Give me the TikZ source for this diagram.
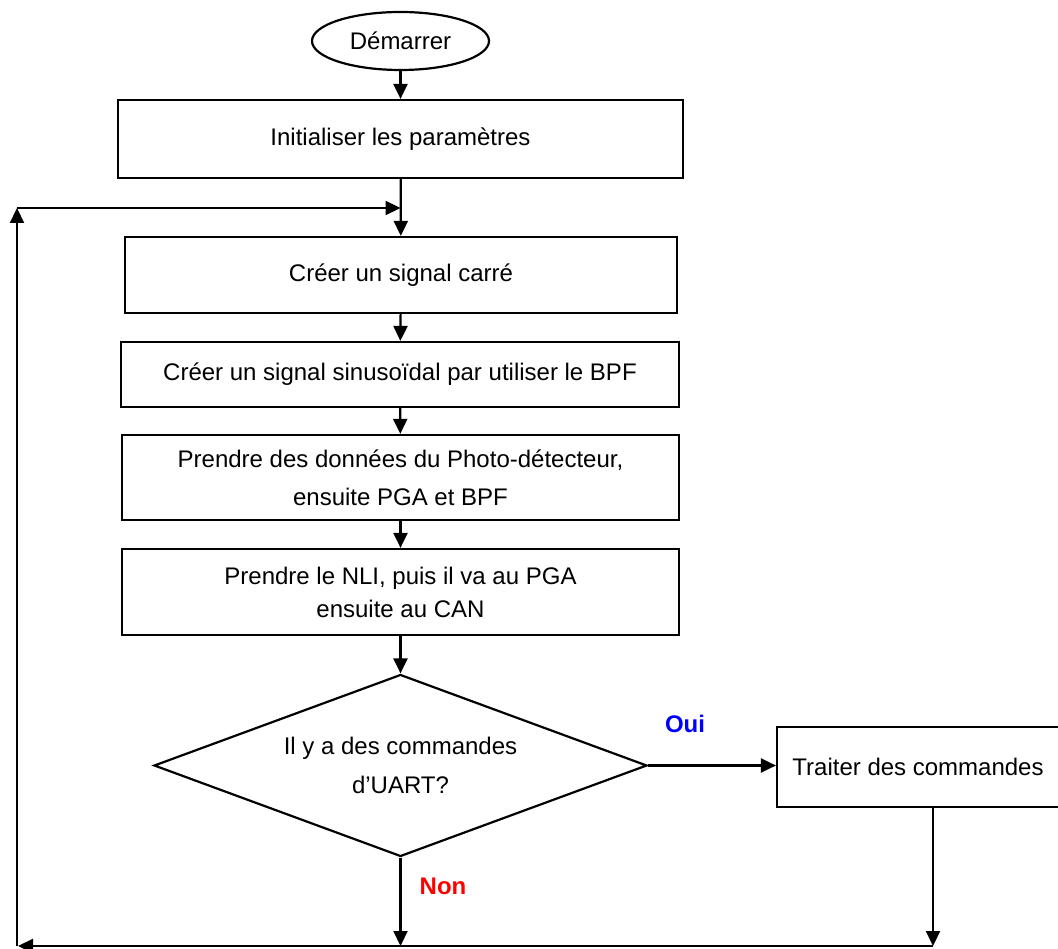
\documentclass[tikz,border=0pt]{standalone}
\usepackage{fontspec}
\setmainfont{Liberation Sans}
\usetikzlibrary{arrows.meta,shapes.geometric}
\begin{document}
\begin{tikzpicture}[x=1pt,y=-1pt,
  every node/.style={font=\fontsize{24}{38}\selectfont},
  box/.style={draw,line width=2.2pt,rectangle,inner sep=0pt,align=center},
  arr/.style={line width=2.2pt,-{Triangle[length=15pt,width=14pt]}},
  ln/.style={line width=2.2pt}]
\useasboundingbox (0,0) rectangle (1058,949);
\fill[white] (0,0) rectangle (1058,949);
\node[draw,line width=2.2pt,ellipse,minimum width=177pt,minimum height=58pt,inner sep=0pt] (start) at (400.5,41) {Démarrer};
\node[box,minimum width=565pt,minimum height=78pt] (b1) at (400.5,139) {Initialiser les paramètres};
\node[box,minimum width=552pt,minimum height=76pt] (b2) at (401,275) {Créer un signal carré};
\node[box,minimum width=558pt,minimum height=65pt] (b3) at (400,374.5) {Créer un signal sinusoïdal par utiliser le BPF};
\node[box,minimum width=557pt,minimum height=85pt] (b4) at (400.5,477.5) {Prendre des données du Photo-détecteur,\\ensuite PGA et BPF};
\node[box,minimum width=557pt,minimum height=86pt,font=\fontsize{24}{33}\selectfont] (b5) at (400.5,592) {Prendre le NLI, puis il va au PGA\\ensuite au CAN};
\node[draw,line width=2.2pt,diamond,minimum width=493pt,minimum height=182pt,inner sep=0pt,aspect=2.7,align=center,font=\fontsize{24}{39}\selectfont] (d) at (400.5,765.5) {Il y a des commandes\\d’UART?};
\node[box,minimum width=282pt,minimum height=80pt] (b6) at (918,767) {Traiter des commandes};
\node[font=\fontsize{24}{28}\selectfont\bfseries,text=blue] (oui) at (685,724) {Oui};
\node[font=\fontsize{24}{28}\selectfont\bfseries,text=red] (non) at (443,886) {Non};
\coordinate (j) at (400.5,208);
\coordinate (tl) at (17,208);
\coordinate (bl) at (17,946);
\coordinate (bm) at (400.5,946);
\coordinate (br) at (933,946);
\coordinate (tip) at (18,946);
\draw[arr] (start) -- (b1);
\draw[arr] (b1) -- (b2);
\draw[arr] (b2) -- (b3);
\draw[arr] (b3) -- (b4);
\draw[arr] (b4) -- (b5);
\draw[arr] (b5) -- (d);
\draw[arr] (d.east) -- (d.east -| b6.west);
\draw[arr] (d.south) -- (bm);
\draw[arr] (b6.south -| br) -- (br);
\draw[arr] (br) -- (tip);
\draw[arr] (bl) -- (tl);
\draw[arr] (tl) -- (j);
\end{tikzpicture}
\end{document}
